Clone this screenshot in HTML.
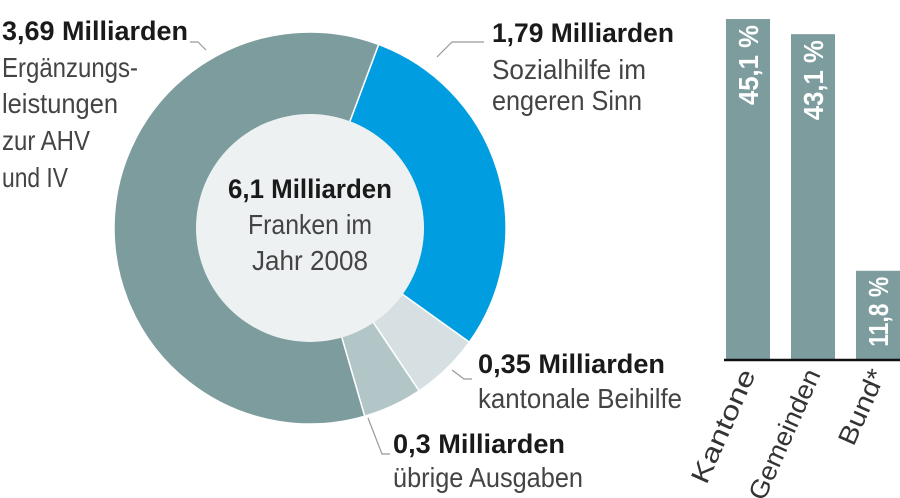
<!DOCTYPE html>
<html><head><meta charset="utf-8">
<style>
html,body{margin:0;padding:0;background:#fff;}
svg{display:block;font-family:"Liberation Sans Narrow","Liberation Sans",sans-serif;}
.b{font-weight:bold;fill:#1a1a1a;font-size:27px;}
.n{fill:#444;font-size:28px;}
</style></head>
<body>
<svg id="chart" width="900" height="498" viewBox="0 0 900 498" xmlns="http://www.w3.org/2000/svg">
  <g id="donut"></g>
  <circle cx="310" cy="228" r="114" fill="#eef1f2"/>
  <g text-anchor="middle">
    <text x="310" y="198" class="b" textLength="164" lengthAdjust="spacingAndGlyphs">6,1 Milliarden</text>
    <text x="310" y="234" class="n" textLength="124" lengthAdjust="spacingAndGlyphs">Franken im</text>
    <text x="310" y="270" class="n" textLength="116" lengthAdjust="spacingAndGlyphs">Jahr 2008</text>
  </g>
  <g>
    <text x="2" y="40" class="b" textLength="186" lengthAdjust="spacingAndGlyphs">3,69 Milliarden</text>
    <text x="2" y="77" class="n" textLength="136" lengthAdjust="spacingAndGlyphs">Ergänzungs-</text>
    <text x="2" y="113" class="n" textLength="116" lengthAdjust="spacingAndGlyphs">leistungen</text>
    <text x="2" y="150" class="n" textLength="88" lengthAdjust="spacingAndGlyphs">zur AHV</text>
    <text x="2" y="187" class="n" textLength="66" lengthAdjust="spacingAndGlyphs">und IV</text>
    <polyline points="190,42 198,42 206,50" fill="none" stroke="#999" stroke-width="1.2"/>
  </g>
  <g>
    <text x="492" y="42" class="b" textLength="182" lengthAdjust="spacingAndGlyphs">1,79 Milliarden</text>
    <text x="492" y="79" class="n" textLength="154" lengthAdjust="spacingAndGlyphs">Sozialhilfe im</text>
    <text x="492" y="110" class="n" textLength="150" lengthAdjust="spacingAndGlyphs">engeren Sinn</text>
    <polyline points="437,57 452,42 484,42" fill="none" stroke="#999" stroke-width="1.2"/>
  </g>
  <g>
    <text x="478" y="373" class="b" textLength="187" lengthAdjust="spacingAndGlyphs">0,35 Milliarden</text>
    <text x="478" y="408" class="n" textLength="204" lengthAdjust="spacingAndGlyphs">kantonale Beihilfe</text>
    <polyline points="452,370 464,379 472,379" fill="none" stroke="#999" stroke-width="1.2"/>
  </g>
  <g>
    <text x="393" y="453" class="b" textLength="172" lengthAdjust="spacingAndGlyphs">0,3 Milliarden</text>
    <text x="393" y="487" class="n" textLength="190" lengthAdjust="spacingAndGlyphs">übrige Ausgaben</text>
    <polyline points="368,418 382,454 390,454" fill="none" stroke="#999" stroke-width="1.2"/>
  </g>
  <g id="bars"></g>
</svg>
<script>
const sliceNames = ["sozialhilfe","kantonale-beihilfe","uebrige-ausgaben","ergaenzungsleistungen"];
const sliceValues = [1.79, 0.35, 0.3, 3.69];
const sliceColors = ["#009ee0","#d6e0e2","#b2c5c7","#7c9c9e"];
const barCategories = ["Kantone","Gemeinden","Bund*"];
const barValues = [45.1, 43.1, 11.8];
const barLabels = ["45,1 %","43,1 %","11,8 %"];

const NS="http://www.w3.org/2000/svg";
const cx=310, cy=228, R=196, startDeg=20.5;
const total=sliceValues.reduce((a,b)=>a+b,0);
function pt(deg,r){const a=deg*Math.PI/180;return [cx+r*Math.sin(a), cy-r*Math.cos(a)];}
const donut=document.getElementById('donut');
let acc=startDeg;
sliceValues.forEach((v,i)=>{
  const sweep=v/total*360, a0=acc, a1=acc+sweep; acc=a1;
  const p0=pt(a0,R), p1=pt(a1,R);
  const large=sweep>180?1:0;
  const p=document.createElementNS(NS,'path');
  p.setAttribute('d',`M${cx},${cy} L${p0[0]},${p0[1]} A${R},${R} 0 ${large} 1 ${p1[0]},${p1[1]} Z`);
  p.setAttribute('fill',sliceColors[i]);
  p.setAttribute('stroke','#fff');
  p.setAttribute('stroke-width','1.5');
  
  
  donut.appendChild(p);
});

const bars=document.getElementById('bars');
const baseY=360, pxPer=7.56, barW=44, x0=726, step=65;
const labelLens=[80,80,70];
const catLens=[122,140,80];
barValues.forEach((v,i)=>{
  const h=v*pxPer, x=x0+i*step, y=baseY-h;
  const r=document.createElementNS(NS,'rect');
  r.setAttribute('x',x); r.setAttribute('y',y); r.setAttribute('width',barW); r.setAttribute('height',h);
  r.setAttribute('fill','#7c9c9e');
  
  
  bars.appendChild(r);
  const t=document.createElementNS(NS,'text');
  const tx=x+barW/2+10, ty=y+6;
  t.setAttribute('x',tx); t.setAttribute('y',ty);
  t.setAttribute('transform',`rotate(-90 ${tx} ${ty})`);
  t.setAttribute('text-anchor','end');
  t.setAttribute('fill','#fff'); t.setAttribute('font-weight','bold'); t.setAttribute('font-size','28');
  t.setAttribute('textLength',labelLens[i]); t.setAttribute('lengthAdjust','spacingAndGlyphs');
  t.textContent=barLabels[i];
  
  
  bars.appendChild(t);
  const c=document.createElementNS(NS,'text');
  const lx=x+barW/2+8, ly=baseY+14;
  c.setAttribute('x',lx); c.setAttribute('y',ly);
  c.setAttribute('transform',`rotate(-66 ${lx} ${ly})`);
  c.setAttribute('text-anchor','end');
  c.setAttribute('fill','#333'); c.setAttribute('font-size','26');
  c.setAttribute('textLength',catLens[i]); c.setAttribute('lengthAdjust','spacingAndGlyphs');
  c.textContent=barCategories[i];
  
  
  bars.appendChild(c);
});
const base=document.createElementNS(NS,'line');
base.setAttribute('x1',724); base.setAttribute('x2',900); base.setAttribute('y1',baseY); base.setAttribute('y2',baseY);
base.setAttribute('stroke','#111'); base.setAttribute('stroke-width','2.5');


bars.appendChild(base);
</script>
</body></html>
